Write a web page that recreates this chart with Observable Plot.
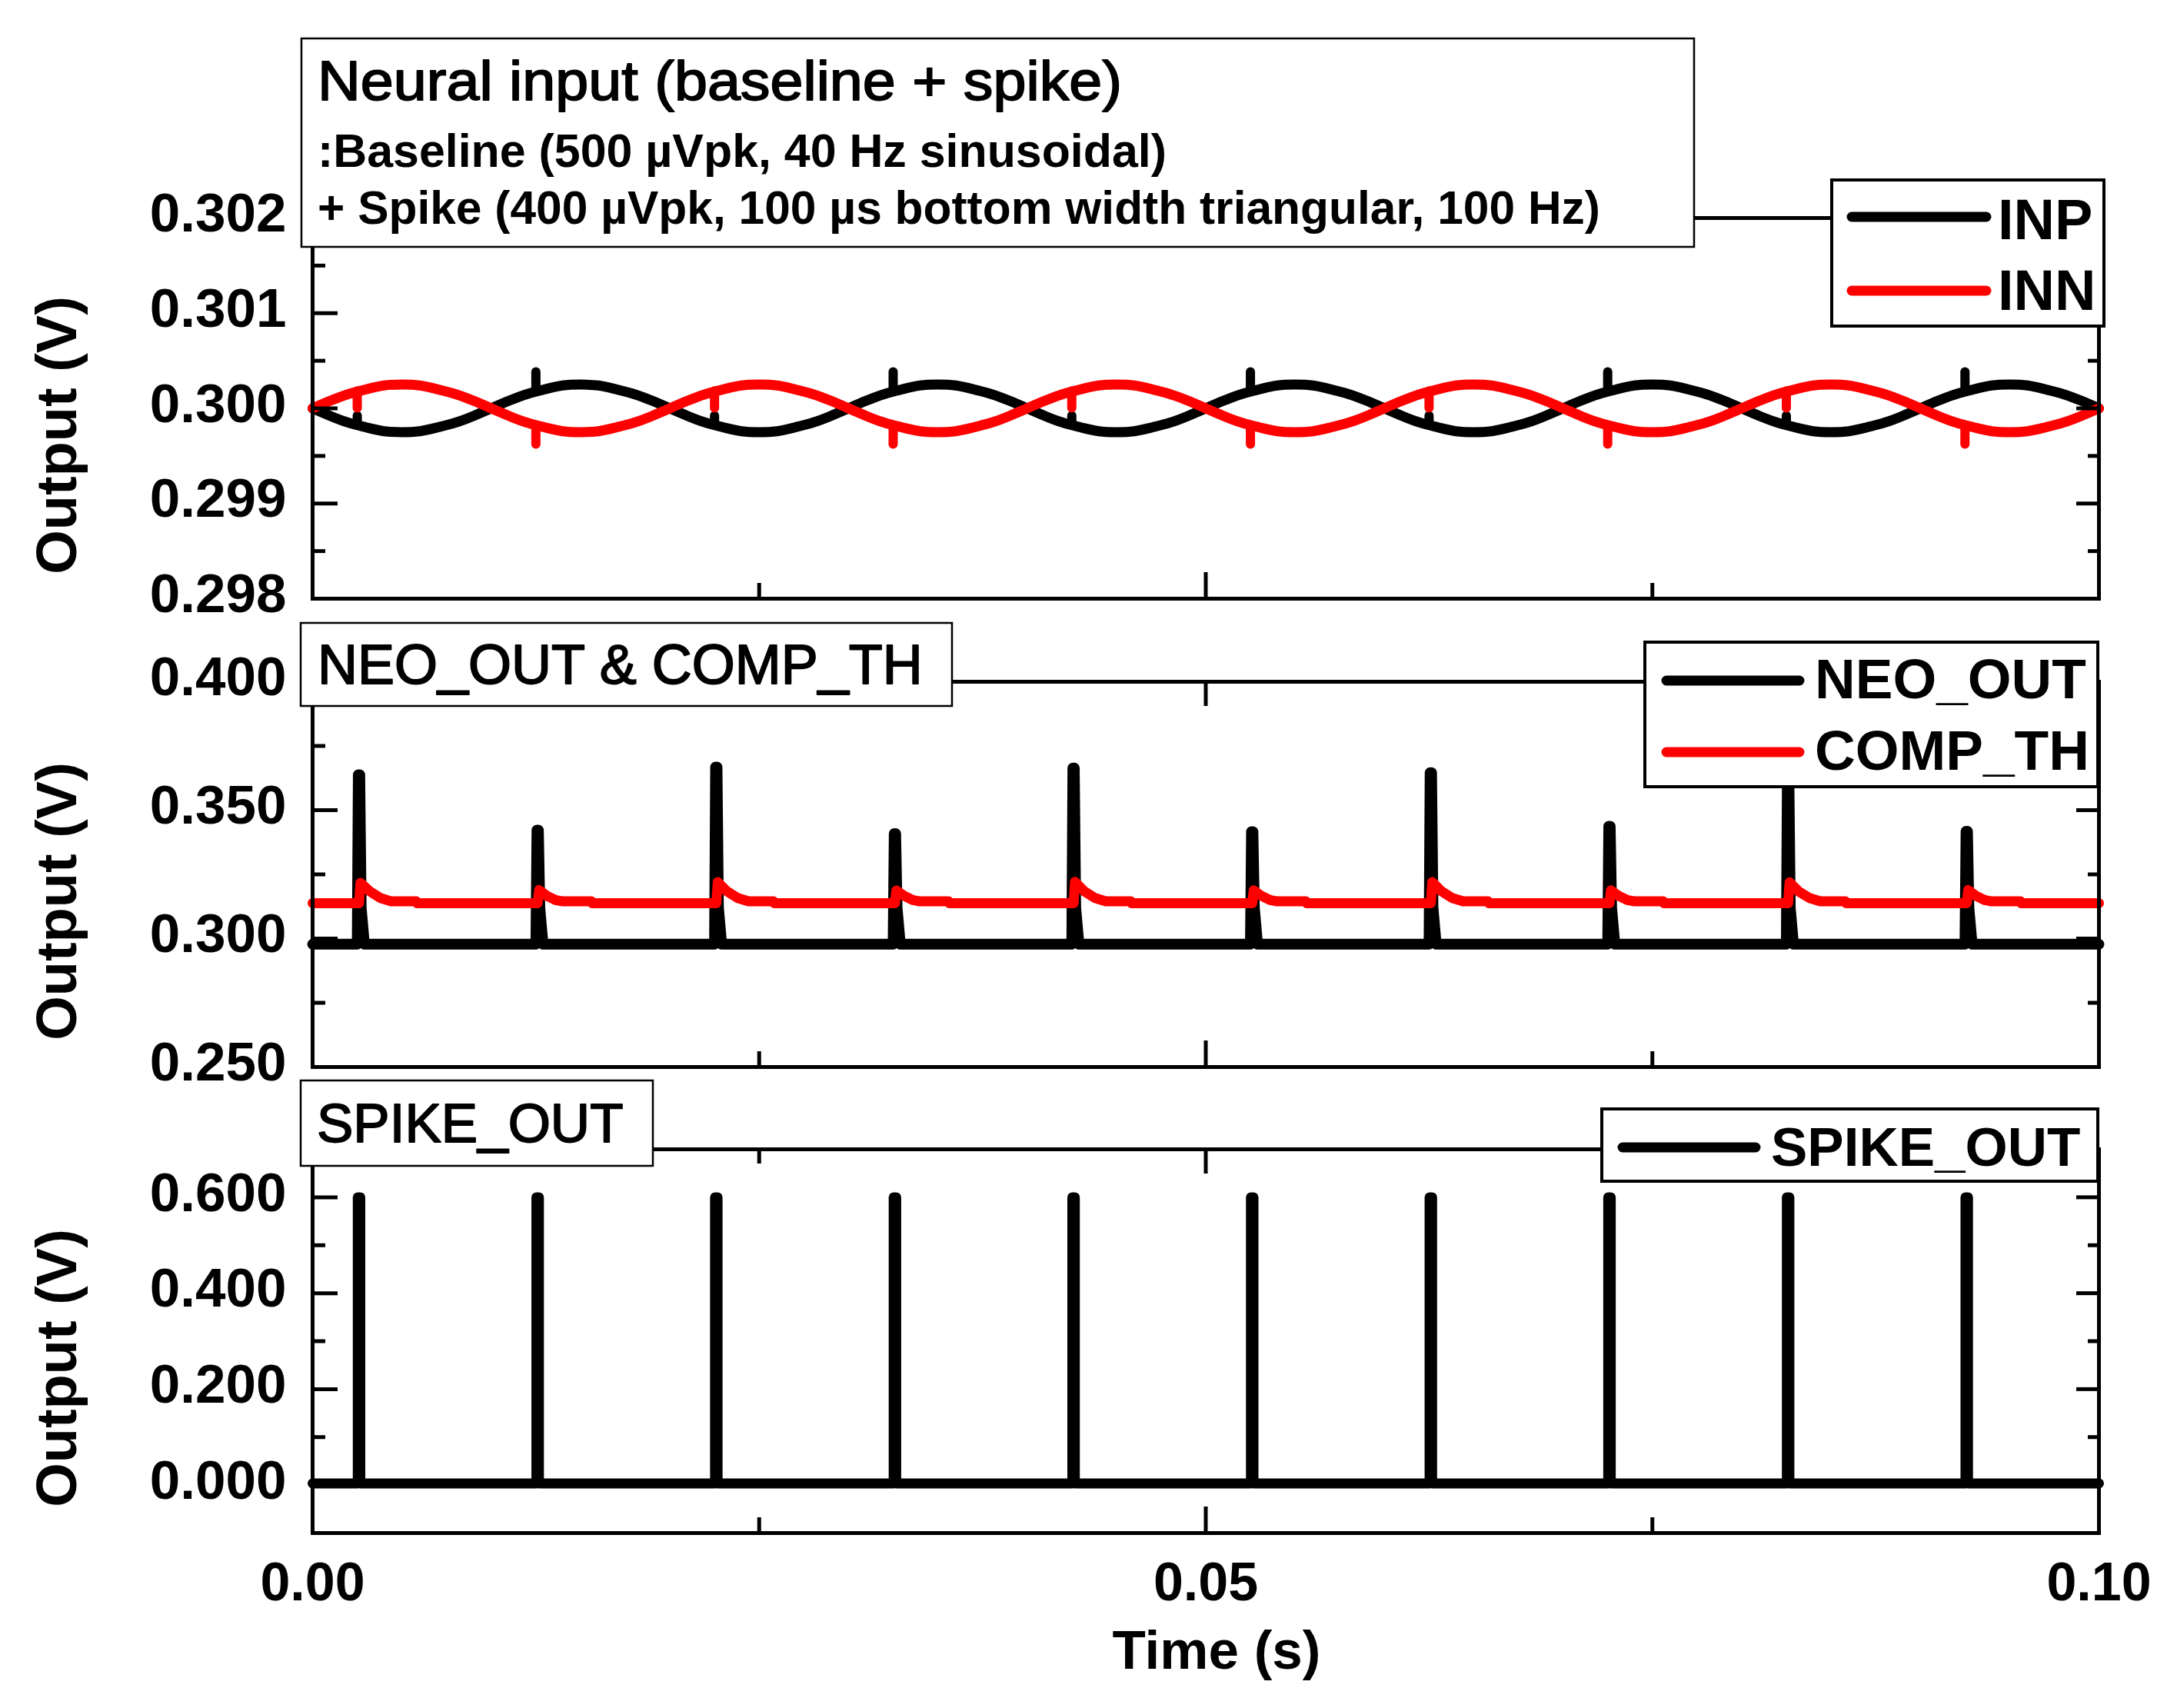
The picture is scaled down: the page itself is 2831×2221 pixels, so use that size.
<!DOCTYPE html>
<html>
<head>
<meta charset="utf-8">
<script src="https://cdn.jsdelivr.net/npm/d3@7"></script>
<script src="https://cdn.jsdelivr.net/npm/@observablehq/plot@0.6"></script>
<style>
html, body { margin: 0; padding: 0; background: #fff; }
#chart { position: relative; width: 2831px; height: 2221px; background: #fff; overflow: hidden; }
#chart > svg { position: absolute; left: 0; }
</style>
</head>
<body>
<div id="chart"></div>
<script>
// ---------------- DATA (time in ms, voltage in V) ----------------
// Panel 1: neural input INP / INN, sampled every 1 ms
const inputTime = [0,1,2,3,4,5,6,7,8,9,10,11,12,13,14,15,16,17,18,19,20,21,22,23,24,25,26,27,28,29,30,31,32,33,34,35,36,37,38,39,40,41,42,43,44,45,46,47,48,49,50,51,52,53,54,55,56,57,58,59,60,61,62,63,64,65,66,67,68,69,70,71,72,73,74,75,76,77,78,79,80,81,82,83,84,85,86,87,88,89,90,91,92,93,94,95,96,97,98,99,100];
const inpValues = [
0.30000,0.29992,0.29985,0.29980,0.29976,0.29975,0.29976,0.29980,0.29985,0.29992,0.30000,0.30008,0.30015,0.30020,0.30024,0.30025,0.30024,0.30020,0.30015,0.30008,
0.30000,0.29992,0.29985,0.29980,0.29976,0.29975,0.29976,0.29980,0.29985,0.29992,0.30000,0.30008,0.30015,0.30020,0.30024,0.30025,0.30024,0.30020,0.30015,0.30008,
0.30000,0.29992,0.29985,0.29980,0.29976,0.29975,0.29976,0.29980,0.29985,0.29992,0.30000,0.30008,0.30015,0.30020,0.30024,0.30025,0.30024,0.30020,0.30015,0.30008,
0.30000,0.29992,0.29985,0.29980,0.29976,0.29975,0.29976,0.29980,0.29985,0.29992,0.30000,0.30008,0.30015,0.30020,0.30024,0.30025,0.30024,0.30020,0.30015,0.30008,
0.30000,0.29992,0.29985,0.29980,0.29976,0.29975,0.29976,0.29980,0.29985,0.29992,0.30000,0.30008,0.30015,0.30020,0.30024,0.30025,0.30024,0.30020,0.30015,0.30008,
0.30000];
const innValues = [
0.30000,0.30008,0.30015,0.30020,0.30024,0.30025,0.30024,0.30020,0.30015,0.30008,0.30000,0.29992,0.29985,0.29980,0.29976,0.29975,0.29976,0.29980,0.29985,0.29992,
0.30000,0.30008,0.30015,0.30020,0.30024,0.30025,0.30024,0.30020,0.30015,0.30008,0.30000,0.29992,0.29985,0.29980,0.29976,0.29975,0.29976,0.29980,0.29985,0.29992,
0.30000,0.30008,0.30015,0.30020,0.30024,0.30025,0.30024,0.30020,0.30015,0.30008,0.30000,0.29992,0.29985,0.29980,0.29976,0.29975,0.29976,0.29980,0.29985,0.29992,
0.30000,0.30008,0.30015,0.30020,0.30024,0.30025,0.30024,0.30020,0.30015,0.30008,0.30000,0.29992,0.29985,0.29980,0.29976,0.29975,0.29976,0.29980,0.29985,0.29992,
0.30000,0.30008,0.30015,0.30020,0.30024,0.30025,0.30024,0.30020,0.30015,0.30008,0.30000,0.29992,0.29985,0.29980,0.29976,0.29975,0.29976,0.29980,0.29985,0.29992,
0.30000];
// Panel 1: injected spikes (vertical excursions)
const inputSpikeTime = [2.5, 12.5, 22.5, 32.5, 42.5, 52.5, 62.5, 72.5, 82.5, 92.5];
const inpSpikeBase = [0.29982, 0.30018, 0.29982, 0.30018, 0.29982, 0.30018, 0.29982, 0.30018, 0.29982, 0.30018];
const inpSpikeTop  = [0.29992, 0.30038, 0.29992, 0.30038, 0.29992, 0.30038, 0.29992, 0.30038, 0.29992, 0.30038];
const innSpikeBase = [0.30018, 0.29982, 0.30018, 0.29982, 0.30018, 0.29982, 0.30018, 0.29982, 0.30018, 0.29982];
const innSpikeTop  = [0.30000, 0.29962, 0.30000, 0.29962, 0.30000, 0.29962, 0.30000, 0.29962, 0.30000, 0.29962];

// Panel 2: NEO_OUT
const neoTime = [0,
  2.5, 2.56, 2.64, 2.72, 2.9,       12.5, 12.56, 12.64, 12.72, 12.9,
  22.5, 22.56, 22.64, 22.72, 22.9,  32.5, 32.56, 32.64, 32.72, 32.9,
  42.5, 42.56, 42.64, 42.72, 42.9,  52.5, 52.56, 52.64, 52.72, 52.9,
  62.5, 62.56, 62.64, 62.72, 62.9,  72.5, 72.56, 72.64, 72.72, 72.9,
  82.5, 82.56, 82.64, 82.72, 82.9,  92.5, 92.56, 92.64, 92.72, 92.9,
  100];
const neoValues = [0.2978,
  0.2978, 0.3638, 0.3638, 0.3120, 0.2978,  0.2978, 0.3422, 0.3422, 0.3120, 0.2978,
  0.2978, 0.3668, 0.3668, 0.3120, 0.2978,  0.2978, 0.3409, 0.3409, 0.3120, 0.2978,
  0.2978, 0.3664, 0.3664, 0.3120, 0.2978,  0.2978, 0.3416, 0.3416, 0.3120, 0.2978,
  0.2978, 0.3646, 0.3646, 0.3120, 0.2978,  0.2978, 0.3437, 0.3437, 0.3120, 0.2978,
  0.2978, 0.3655, 0.3655, 0.3120, 0.2978,  0.2978, 0.3418, 0.3418, 0.3120, 0.2978,
  0.2978];
// Panel 2: COMP_TH
const compTime = [0,
  2.6, 2.68, 3.2, 3.8, 4.4, 5.8, 5.85,
  12.6, 12.68, 13.1, 13.6, 14.0, 15.6, 15.65,
  22.6, 22.68, 23.2, 23.8, 24.4, 25.8, 25.85,
  32.6, 32.68, 33.1, 33.6, 34.0, 35.6, 35.65,
  42.6, 42.68, 43.2, 43.8, 44.4, 45.8, 45.85,
  52.6, 52.68, 53.1, 53.6, 54.0, 55.6, 55.65,
  62.6, 62.68, 63.2, 63.8, 64.4, 65.8, 65.85,
  72.6, 72.68, 73.1, 73.6, 74.0, 75.6, 75.65,
  82.6, 82.68, 83.2, 83.8, 84.4, 85.8, 85.85,
  92.6, 92.68, 93.1, 93.6, 94.0, 95.6, 95.65,
  100];
const compValues = [0.3138,
  0.3138, 0.3217, 0.3184, 0.3158, 0.3145, 0.3145, 0.3138,
  0.3138, 0.3189, 0.3167, 0.3150, 0.3145, 0.3145, 0.3138,
  0.3138, 0.3220, 0.3184, 0.3158, 0.3145, 0.3145, 0.3138,
  0.3138, 0.3187, 0.3167, 0.3150, 0.3145, 0.3145, 0.3138,
  0.3138, 0.3221, 0.3184, 0.3158, 0.3145, 0.3145, 0.3138,
  0.3138, 0.3188, 0.3167, 0.3150, 0.3145, 0.3145, 0.3138,
  0.3138, 0.3220, 0.3184, 0.3158, 0.3145, 0.3145, 0.3138,
  0.3138, 0.3188, 0.3167, 0.3150, 0.3145, 0.3145, 0.3138,
  0.3138, 0.3219, 0.3183, 0.3158, 0.3145, 0.3145, 0.3138,
  0.3138, 0.3189, 0.3167, 0.3150, 0.3145, 0.3145, 0.3138,
  0.3138];

// Panel 3: SPIKE_OUT
const spikeOutTime = [0,
  2.53, 2.53, 2.67, 2.67,  12.53, 12.53, 12.67, 12.67,  22.53, 22.53, 22.67, 22.67,
  32.53, 32.53, 32.67, 32.67,  42.53, 42.53, 42.67, 42.67,  52.53, 52.53, 52.67, 52.67,
  62.53, 62.53, 62.67, 62.67,  72.53, 72.53, 72.67, 72.67,  82.53, 82.53, 82.67, 82.67,
  92.53, 92.53, 92.67, 92.67, 100];
const spikeOutValues = [0.0035,
  0.0035, 0.6, 0.6, 0.0035,  0.0035, 0.6, 0.6, 0.0035,  0.0035, 0.6, 0.6, 0.0035,
  0.0035, 0.6, 0.6, 0.0035,  0.0035, 0.6, 0.6, 0.0035,  0.0035, 0.6, 0.6, 0.0035,
  0.0035, 0.6, 0.6, 0.0035,  0.0035, 0.6, 0.6, 0.0035,  0.0035, 0.6, 0.6, 0.0035,
  0.0035, 0.6, 0.6, 0.0035, 0.0035];

// Axis ticks
const xMajorTicks = [0, 0.05, 0.10];
const xMinorTicks = [0.025, 0.075];
const y1Major = [0.298, 0.299, 0.300, 0.301, 0.302];
const y1Minor = [0.2985, 0.2995, 0.3005, 0.3015];
const y2Major = [0.250, 0.300, 0.350, 0.400];
const y2Minor = [0.275, 0.325, 0.375];
const y3Major = [0.000, 0.200, 0.400, 0.600];
const y3Minor = [0.100, 0.300, 0.500];

// Text
const titles = [
  ["Neural input (baseline + spike)", ":Baseline (500 µVpk, 40 Hz sinusoidal)", "+ Spike (400 µVpk, 100 µs bottom width triangular, 100 Hz)"],
  ["NEO_OUT & COMP_TH"],
  ["SPIKE_OUT"]
];
const legends = [
  [{label: "INP", color: "#000000"}, {label: "INN", color: "#ff0000"}],
  [{label: "NEO_OUT", color: "#000000"}, {label: "COMP_TH", color: "#ff0000"}],
  [{label: "SPIKE_OUT", color: "#000000"}]
];
const yLabel = "Output (V)";
const xLabel = "Time (s)";

// ---------------- BUILD ----------------
const FONT = "'Liberation Sans', Arial, Helvetica, sans-serif";
const rows = (ts, vs) => ts.map((t, i) => ({t: t / 1000, v: vs[i]}));

function frameMarks(yMajor, yMinor) {
  const tk = {fill: "none", strokeWidth: 5, label: null};
  return [
    Plot.frame({stroke: "black", strokeWidth: 5}),
    Plot.axisY({...tk, ticks: yMajor, anchor: "left", tickSize: -33}),
    Plot.axisY({...tk, ticks: yMinor, anchor: "left", tickSize: -17}),
    Plot.axisY({...tk, ticks: yMajor, anchor: "right", tickSize: -30}),
    Plot.axisY({...tk, ticks: yMinor, anchor: "right", tickSize: -15}),
    Plot.axisX({...tk, ticks: xMajorTicks, anchor: "bottom", tickSize: -34}),
    Plot.axisX({...tk, ticks: xMinorTicks, anchor: "bottom", tickSize: -20}),
    Plot.axisX({...tk, ticks: xMajorTicks, anchor: "top", tickSize: -31}),
    Plot.axisX({...tk, ticks: xMinorTicks, anchor: "top", tickSize: -18}),
    Plot.axisY({ticks: yMajor, anchor: "left", tickSize: 0, tickPadding: 34, tickFormat: d3.format(".3f"),
      fontSize: 71, fontWeight: "bold", dy: -5, label: null}),
    Plot.text([yLabel], {text: d => d, frameAnchor: "left", textAnchor: "middle", rotate: -90, dx: -331, dy: 35,
      fontSize: 74, fontWeight: "bold", lineAnchor: "middle"})
  ];
}

function makePanel({height, marginTop, marginBottom, yDomain, marks}) {
  return Plot.plot({
    width: 2831, height, marginLeft: 406, marginRight: 102, marginTop, marginBottom,
    x: {domain: [0, 0.1], axis: null},
    y: {domain: yDomain, axis: null},
    style: {fontFamily: FONT, background: "transparent", color: "black", overflow: "visible"},
    marks
  });
}

const lineOpts = {x: "t", y: "v", strokeWidth: 13, strokeLinejoin: "round"};

const p1 = makePanel({
  height: 830, marginTop: 283, marginBottom: 52, yDomain: [0.298, 0.302],
  marks: [
    Plot.line(rows(inputTime, inpValues), {...lineOpts, stroke: "#000000", curve: "natural"}),
    Plot.ruleX(inputSpikeTime.map((t, i) => ({t: t / 1000, b: inpSpikeBase[i], e: inpSpikeTop[i]})),
      {x: "t", y1: "b", y2: "e", stroke: "#000000", strokeWidth: 12, strokeLinecap: "round"}),
    Plot.line(rows(inputTime, innValues), {...lineOpts, stroke: "#ff0000", curve: "natural"}),
    Plot.ruleX(inputSpikeTime.map((t, i) => ({t: t / 1000, b: innSpikeBase[i], e: innSpikeTop[i]})),
      {x: "t", y1: "b", y2: "e", stroke: "#ff0000", strokeWidth: 12, strokeLinecap: "round"}),
    ...frameMarks(y1Major, y1Minor)
  ]
});

const p2 = makePanel({
  height: 610, marginTop: 56, marginBottom: 53, yDomain: [0.25, 0.40],
  marks: [
    Plot.line(rows(neoTime, neoValues), {...lineOpts, stroke: "#000000", strokeWidth: 14}),
    Plot.line(rows(compTime, compValues), {...lineOpts, stroke: "#ff0000"}),
    ...frameMarks(y2Major, y2Minor)
  ]
});

const p3 = makePanel({
  height: 781, marginTop: 54, marginBottom: 228, yDomain: [-0.1, 0.7],
  marks: [
    Plot.line(rows(spikeOutTime, spikeOutValues), {...lineOpts, stroke: "#000000", strokeWidth: 13}),
    ...frameMarks(y3Major, y3Minor),
    Plot.axisX({ticks: xMajorTicks, anchor: "bottom", tickSize: 0, tickPadding: 38, tickFormat: d3.format(".2f"),
      fontSize: 70, fontWeight: "bold", label: null}),
    Plot.text([xLabel], {text: d => d, frameAnchor: "bottom", dx: 14, dy: 154, fontSize: 71,
      fontWeight: "bold", lineAnchor: "middle"})
  ]
});

const chart = document.getElementById("chart");
p1.style.top = "0px";
p2.style.top = "830px";
p3.style.top = "1440px";
chart.append(p1, p2, p3);

// ---------------- Title boxes and legends (overlay) ----------------
const ov = d3.create("svg").attr("width", 2831).attr("height", 2221)
  .style("position", "absolute").style("left", "0px").style("top", "0px")
  .attr("font-family", FONT);

const titleLayout = [
  {x: 392, y: 50, w: 1811, h: 271, lines: [
    {x: 413, y: 130, size: 72, weight: "normal", len: 1046, thick: 1.8},
    {x: 413, y: 217, size: 61, weight: "bold", len: 1104},
    {x: 413, y: 291, size: 61, weight: "bold", len: 1668}]},
  {x: 391, y: 810, w: 847, h: 108, lines: [{x: 413, y: 889, size: 72, weight: "normal", thick: 1.8}]},
  {x: 391, y: 1405, w: 458, h: 111, lines: [{x: 412, y: 1485, size: 71, weight: "normal", thick: 1.8}]}
];
titleLayout.forEach((b, i) => {
  ov.append("rect").attr("x", b.x).attr("y", b.y).attr("width", b.w).attr("height", b.h)
    .attr("fill", "#fff").attr("stroke", "#000").attr("stroke-width", 2.5);
  b.lines.forEach((l, j) => {
    const t = ov.append("text").attr("x", l.x).attr("y", l.y).attr("font-size", l.size)
      .attr("font-weight", l.weight).attr("fill", "#000").text(titles[i][j]);
    if (l.thick) t.attr("stroke", "#000").attr("stroke-width", l.thick).attr("stroke-linejoin", "round");
    if (l.len) t.attr("textLength", l.len).attr("lengthAdjust", "spacingAndGlyphs");
  });
});

const legendLayout = [
  {x: 2382, y: 234, w: 354, h: 190, lx1: 2408, lx2: 2583, tx: 2598, rows: [282, 378], base: [311, 403], size: 74},
  {x: 2139, y: 835, w: 589, h: 188, lx1: 2167, lx2: 2340, tx: 2360, rows: [885, 978], base: [908, 1001], size: 73},
  {x: 2083, y: 1442, w: 645, h: 94, lx1: 2110, lx2: 2283, tx: 2303, rows: [1492], base: [1516], size: 71}
];
legendLayout.forEach((L, i) => {
  ov.append("rect").attr("x", L.x).attr("y", L.y).attr("width", L.w).attr("height", L.h)
    .attr("fill", "#fff").attr("stroke", "#000").attr("stroke-width", 4);
  legends[i].forEach((e, j) => {
    ov.append("line").attr("x1", L.lx1).attr("x2", L.lx2).attr("y1", L.rows[j]).attr("y2", L.rows[j])
      .attr("stroke", e.color).attr("stroke-width", 13).attr("stroke-linecap", "round");
    ov.append("text").attr("x", L.tx).attr("y", L.base[j]).attr("font-size", L.size)
      .attr("font-weight", "bold").attr("fill", "#000").text(e.label);
  });
});
chart.append(ov.node());
</script>
</body>
</html>
